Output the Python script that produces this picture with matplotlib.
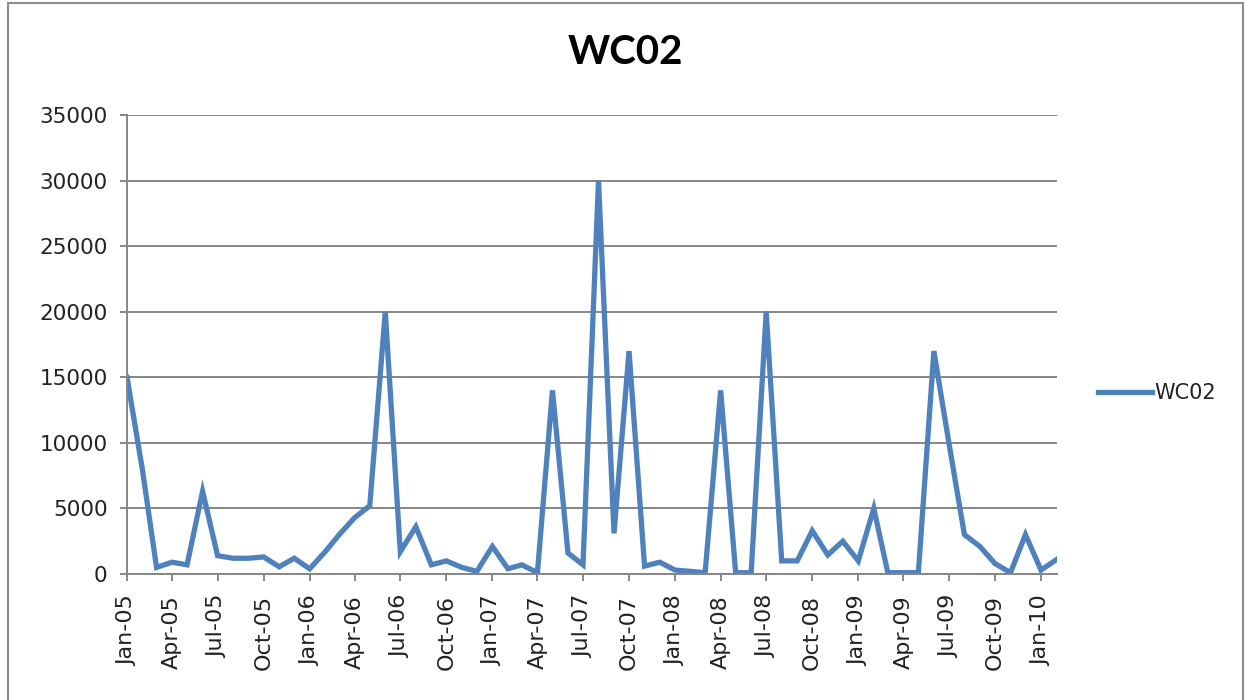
import matplotlib.pyplot as plt
import matplotlib.dates as mdates
import pandas as pd
from matplotlib.patches import Rectangle

# Monthly values, Jan-05 .. Feb-10
months = pd.date_range("2005-01-01", "2010-02-01", freq="MS")
wc02 = [15000, 7900, 500, 900, 700, 6300, 1400, 1200, 1200, 1300, 550, 1200,
        400, 1700, 3000, 4300, 5200, 20000, 1700, 3600, 700, 1000, 500, 200,
        2100, 400, 700, 100, 14000, 1600, 700, 30000, 3100, 17000, 600, 900,
        300, 200, 100, 14000, 100, 100, 20000, 1000, 1000, 3300, 1450, 2500,
        1000, 5000, 100, 100, 100, 17000, 10000, 3000, 2100, 800, 100, 3000,
        300, 1100]
series_name = "WC02"

grey = "#868686"
txt = "#222222"

fig = plt.figure(figsize=(12.45, 7), dpi=100)
ax = fig.add_axes([127 / 1245, 1 - 574 / 700, (1057 - 127) / 1245, (574 - 115) / 700])

ax.plot(months, wc02, color="#4F81BD", lw=3.8, label=series_name,
        solid_joinstyle="miter")

ax.set_ylim(0, 35000)
ax.set_yticks(range(0, 35001, 5000))
ax.set_xlim(months[0], months[-1] + pd.Timedelta(days=1))
ax.xaxis.set_major_locator(mdates.MonthLocator(bymonth=[1, 4, 7, 10]))
ax.xaxis.set_major_formatter(mdates.DateFormatter("%b-%y"))

ax.grid(axis="y", color=grey, lw=1.4)
ax.set_axisbelow(True)
for s in ["top", "right"]:
    ax.spines[s].set_visible(False)
for s in ["left", "bottom"]:
    ax.spines[s].set_color(grey)
    ax.spines[s].set_linewidth(1.4)

ax.tick_params(axis="y", length=5, width=1.4, color=grey, pad=9, labelsize=15.5,
               labelcolor=txt)
ax.tick_params(axis="x", length=5, width=1.4, color=grey, pad=10, labelsize=16,
               labelrotation=90, labelcolor=txt)

fig.text(625 / 1245, 1 - 53 / 700, "WC02", fontsize=29, fontweight="bold",
         family=["Lato", "DejaVu Sans"], ha="center", va="center")

fig.legend(loc="center left", bbox_to_anchor=(1079 / 1245, 1 - 393 / 700),
           frameon=False, fontsize=15, handlelength=2.6, handletextpad=0.1,
           labelcolor=txt)

# chart area border
fig.patches.append(Rectangle((8 / 1245, -0.01), (1243 - 8) / 1245, 1.01 - 3 / 700,
                             transform=fig.transFigure, fill=False,
                             edgecolor="#8c8c8c", lw=1.5))

fig.savefig("out.png", dpi=100)
